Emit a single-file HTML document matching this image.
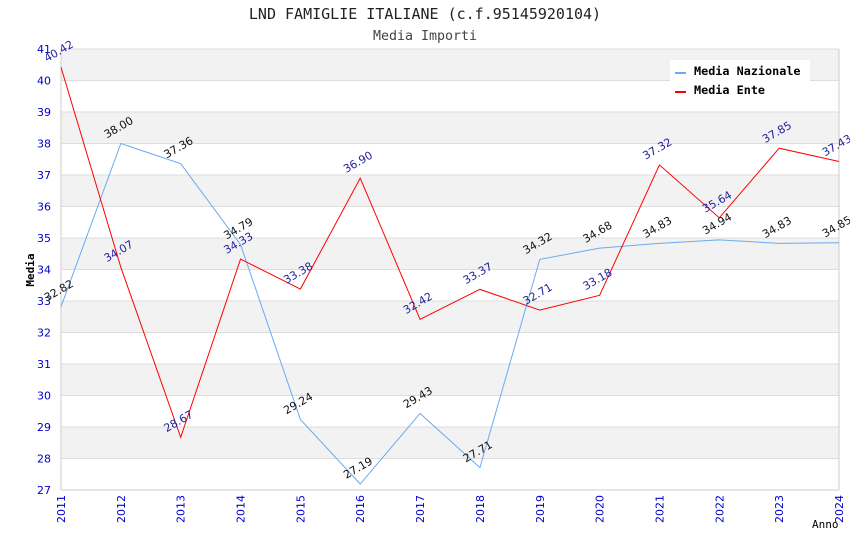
<!DOCTYPE html>
<html><head><meta charset="utf-8"><style>body{margin:0;background:#fff}svg{display:block}</style></head>
<body>
<svg id="c" width="850" height="550" xmlns="http://www.w3.org/2000/svg">
<text x="425" y="19" text-anchor="middle" font-family="DejaVu Sans Mono, Liberation Mono, monospace" font-size="15" fill="#222">LND FAMIGLIE ITALIANE (c.f.95145920104)</text>
<text x="425" y="40" text-anchor="middle" font-family="DejaVu Sans Mono, Liberation Mono, monospace" font-size="13.3" fill="#444">Media Importi</text>
<g id="bands"></g><g id="grid"></g><g id="axes"></g><g id="series"></g><g id="labels"></g>
<text x="34" y="270" text-anchor="middle" transform="rotate(-90 34 270)" font-family="DejaVu Sans Mono, monospace" font-size="11" font-weight="bold" fill="#000">Media</text>
<text x="812" y="528" font-family="DejaVu Sans Mono, monospace" font-size="11" fill="#000">Anno</text>
<g>
<rect x="670" y="60" width="140" height="42" fill="#fff"/>
<line x1="675" y1="73" x2="686" y2="73" stroke="#6aaaf0" stroke-width="2"/>
<text x="694" y="75" font-family="DejaVu Sans Mono, monospace" font-size="11.8" font-weight="bold">Media Nazionale</text>
<line x1="675" y1="92" x2="686" y2="92" stroke="#f00" stroke-width="2"/>
<text x="694" y="94" font-family="DejaVu Sans Mono, monospace" font-size="11.8" font-weight="bold">Media Ente</text>
</g>
</svg>
<script>
const years=[2011,2012,2013,2014,2015,2016,2017,2018,2019,2020,2021,2022,2023,2024];
const nazionale=[32.82,38.00,37.36,34.79,29.24,27.19,29.43,27.71,34.32,34.68,34.83,34.94,34.83,34.85];
const ente=[40.42,34.07,28.67,34.33,33.38,36.90,32.42,33.37,32.71,33.18,37.32,35.64,37.85,37.43];
const yTicks=[27,28,29,30,31,32,33,34,35,36,37,38,39,40,41];
const NS='http://www.w3.org/2000/svg';
const X0=61,X1=839,Y0=490,Y1=49,ymin=27,ymax=41;
const xs=i=>X0+(X1-X0)*i/(years.length-1);
const ys=v=>Y0-(v-ymin)/(ymax-ymin)*(Y0-Y1);
function mk(t,a,p){const e=document.createElementNS(NS,t);for(const k in a)e.setAttribute(k,a[k]);p.appendChild(e);return e;}
const bands=document.getElementById('bands'),grid=document.getElementById('grid'),axes=document.getElementById('axes'),series=document.getElementById('series'),labels=document.getElementById('labels');
for(let v=ymin;v<ymax;v++){if((ymax-v)%2===1){const r=mk('rect',{x:X0,y:ys(v+1),width:X1-X0,height:ys(v)-ys(v+1),fill:'#f2f2f2'},bands);

}}
yTicks.forEach(v=>{const l=mk('line',{x1:X0,x2:X1,y1:ys(v),y2:ys(v),stroke:'#ddd'},grid);


const t=mk('text',{x:X0-10,y:ys(v)+4,'text-anchor':'end','font-family':'DejaVu Sans, sans-serif','font-size':'11',fill:'#00c'},axes);t.textContent=v;

});
mk('line',{x1:X0,x2:X0,y1:Y1,y2:Y0,stroke:'#ccc'},axes);
mk('line',{x1:X1,x2:X1,y1:Y1,y2:Y0,stroke:'#ccc'},axes);
mk('line',{x1:X0,x2:X1,y1:Y0,y2:Y0,stroke:'#ccc'},axes);
years.forEach((y,i)=>{const x=xs(i);const t=mk('text',{x:x+4,y:Y0+5,'text-anchor':'end',transform:`rotate(-90 ${x+4} ${Y0+5})`,'font-family':'DejaVu Sans, sans-serif','font-size':'11',fill:'#00c'},axes);t.textContent=y;

});
function draw(arr,color,lc,name){const p=mk('polyline',{points:arr.map((v,i)=>xs(i)+','+ys(v)).join(' '),fill:'none',stroke:color,'stroke-width':1},series);


arr.forEach((v,i)=>{const x=xs(i)-14,y=ys(v)-5;const t=mk('text',{x:x,y:y,transform:`rotate(-30 ${x} ${y})`,'font-family':'DejaVu Sans, sans-serif','font-size':'11',fill:lc},labels);t.textContent=v.toFixed(2);

});}
draw(nazionale,'#6aaaf0','#111','nazionale');
draw(ente,'#f00','#22229a','ente');
</script>
</body></html>
